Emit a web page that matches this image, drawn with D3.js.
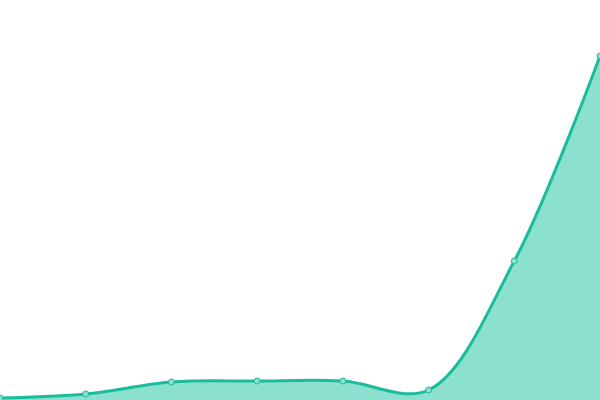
<html>
<head>
  <script src="https://unpkg.com/d3@7/dist/d3.min.js"></script>
  <style>body{margin:0;background:#fff}</style>
</head>
<body>
  <svg id="container" width="600" height="400"></svg>
<script>
    const categories = ['1', '2', '3', '4', '5', '6', '7', '8'];
    const values = [2, 6, 18, 19, 19, 10, 139, 344];

    const width = 600;
    const height = 400;
    const svg = d3.select('#container');

    const xScale = d3.scalePoint()
      .domain(categories)
      .range([0, width]);

    const yScale = d3.scaleLinear()
      .domain([0, 400])
      .range([height, 0]);

    const data = categories.map((c, i) => ({cat: c, value: values[i]}));

    // smoothed like the original, with a bit less overshoot than plain cardinal
    const curve = d3.curveCatmullRom.alpha(0.5);

    const area = d3.area()
      .x(d => xScale(d.cat))
      .y0(height)
      .y1(d => yScale(d.value))
      .curve(curve);

    const line = d3.line()
      .x(d => xScale(d.cat))
      .y(d => yScale(d.value))
      .curve(curve);

    svg.append('path')
      .datum(data)
      .attr('d', area)
      .attr('fill', '#8be0d0');

    svg.append('path')
      .datum(data)
      .attr('d', line)
      .attr('fill', 'none')
      .attr('stroke', '#1abc9c')
      .attr('stroke-width', 3);

    svg.selectAll('.dot')
      .data(data)
      .enter()
      .append('circle')
      .attr('class', 'dot')
      .attr('cx', d => xScale(d.cat))
      .attr('cy', d => yScale(d.value))
      .attr('r', 3)
      .attr('fill', '#8be0d0')
      .attr('stroke', '#1abc9c')
      .attr('stroke-width', 1);
</script>
</body>
</html>
